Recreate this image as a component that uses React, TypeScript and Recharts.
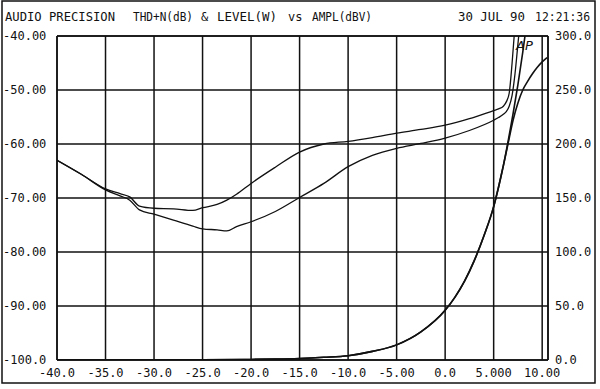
import { CartesianGrid, ComposedChart, Line, ReferenceLine, XAxis, YAxis } from "recharts";

const MONO = "'DejaVu Sans Mono', 'Liberation Mono', monospace";
const INK = "#111";

// x axis (dBV)
const xTicks = [-40, -35, -30, -25, -20, -15, -10, -5, 0, 5, 10];
const xTickLabels = ["-40.0", "-35.0", "-30.0", "-25.0", "-20.0", "-15.0", "-10.0", "-5.00", "0.0", "5.000", "10.00"];

// left axis, THD+N (dB)
const leftTicks = [-100, -90, -80, -70, -60, -50, -40];
const leftTickLabels = ["-100.0", "-90.00", "-80.00", "-70.00", "-60.00", "-50.00", "-40.00"];

// right axis, level (W)
const rightTicks = [0, 50, 100, 150, 200, 250, 300];
const rightTickLabels = ["0.0", "50.0", "100.0", "150.0", "200.0", "250.0", "300.0"];

const thdAmpl = [
  -40, -37.5, -35, -33.5, -32.5, -31.5, -30, -28, -26, -25, -23.5, -22.5, -21.5, -20, -17.5, -15,
  -12.5, -10, -7.5, -5, -2.5, 0, 2.5, 5, 5.5, 6, 6.3, 6.6, 6.9, 7.2, 7.5, 7.8,
];
const thdUpper = [
  -63.0, -65.6, -68.3, -69.2, -69.8, -71.5, -71.9, -72.0, -72.3, -71.8, -71.2, -70.4, -69.3, -67.3, -64.3, -61.5,
  -60.0, -59.5, -58.8, -58.0, -57.3, -56.5, -55.3, -53.8, -53.5, -53.0, -52.2, -50.6, -45.0, -38.0, -30.0, -22.0,
];
const thdLower = [
  -63.0, -65.6, -68.5, -69.6, -70.4, -72.2, -73.0, -74.1, -75.2, -75.7, -75.9, -76.1, -75.3, -74.4, -72.5, -69.9,
  -67.3, -64.2, -62.1, -60.8, -59.9, -58.9, -57.5, -55.6, -55.1, -54.5, -54.0, -53.0, -51.0, -47.0, -41.5, -36.0,
];

const levelAmpl = [
  -40, -35, -30, -25, -20, -17.5, -15, -12.5, -10, -7.5, -5, -2.5, 0, 1, 2, 3, 4, 5, 5.5, 6,
  6.5, 7, 7.5, 8, 8.5, 9, 9.5, 10, 10.5,
];
const levelLeft = [
  0, 0.05, 0.1, 0.2, 0.5, 0.8, 1.4, 2.5, 4, 8, 14, 26, 46, 58, 73, 92, 115, 142, 160, 180,
  203, 228, 255, 285, 318, null, null, null, null,
];
const levelRight = [
  0, 0.05, 0.1, 0.2, 0.5, 0.8, 1.4, 2.5, 4, 8, 14, 26, 46, 58, 73, 92, 115, 142, 160, 180,
  201, 222, 238, 250, 258, 265, 271, 276, 280,
];

const toPoints = (xs: number[], ys: (number | null)[]) =>
  xs.map((x, i) => ({ x, y: ys[i] })).filter((p) => p.y !== null);

const LeftTick = ({ y, payload }: any) => (
  <text x={3} y={y} dy={4} fontSize={12} fontFamily={MONO} fill={INK} textAnchor="start">
    {leftTickLabels[leftTicks.indexOf(payload.value)]}
  </text>
);

const RightTick = ({ y, payload }: any) => (
  <text x={555} y={y} dy={4} fontSize={12} fontFamily={MONO} fill={INK} textAnchor="start">
    {rightTickLabels[rightTicks.indexOf(payload.value)]}
  </text>
);

const BottomTick = ({ x, payload }: any) => (
  <text x={x} y={377} fontSize={12} fontFamily={MONO} fill={INK} textAnchor="middle">
    {xTickLabels[xTicks.indexOf(payload.value)]}
  </text>
);

export default function App() {
  return (
    <div style={{ position: "absolute", left: 0, top: 0, width: 600, height: 389, background: "#fff" }}>
      <ComposedChart width={600} height={389} margin={{ top: 36, right: 0, bottom: 0, left: 0 }}>
        <CartesianGrid yAxisId="left" stroke={INK} strokeWidth={1.5} />
        <XAxis
          type="number"
          dataKey="x"
          domain={[-40, 10.6]}
          ticks={xTicks}
          allowDataOverflow
          height={29}
          tickSize={0}
          tick={<BottomTick />}
          axisLine={{ stroke: INK, strokeWidth: 1.5 }}
        />
        <YAxis
          yAxisId="left"
          domain={[-100, -40]}
          ticks={leftTicks}
          allowDataOverflow
          width={57}
          tickSize={0}
          tick={<LeftTick />}
          axisLine={{ stroke: INK, strokeWidth: 1.5 }}
        />
        <YAxis
          yAxisId="right"
          orientation="right"
          domain={[0, 300]}
          ticks={rightTicks}
          allowDataOverflow
          width={52}
          tickSize={0}
          tick={<RightTick />}
          axisLine={{ stroke: INK, strokeWidth: 1.5 }}
        />
        <ReferenceLine yAxisId="left" y={-40} stroke={INK} strokeWidth={1.5} />
        <Line
          yAxisId="left"
          data={toPoints(thdAmpl, thdUpper)}
          dataKey="y"
          type="monotone"
          stroke={INK}
          strokeWidth={1.3}
          dot={false}
          isAnimationActive={false}
        />
        <Line
          yAxisId="left"
          data={toPoints(thdAmpl, thdLower)}
          dataKey="y"
          type="monotone"
          stroke={INK}
          strokeWidth={1.3}
          dot={false}
          isAnimationActive={false}
        />
        <Line
          yAxisId="right"
          data={toPoints(levelAmpl, levelLeft)}
          dataKey="y"
          type="monotone"
          stroke={INK}
          strokeWidth={1.6}
          dot={false}
          isAnimationActive={false}
        />
        <Line
          yAxisId="right"
          data={toPoints(levelAmpl, levelRight)}
          dataKey="y"
          type="monotone"
          stroke={INK}
          strokeWidth={1.6}
          dot={false}
          isAnimationActive={false}
        />
      </ComposedChart>
      <svg width={600} height={389} style={{ position: "absolute", left: 0, top: 0, pointerEvents: "none" }}>
        <rect x={2} y={1} width={593} height={382} fill="none" stroke={INK} strokeWidth={1.5} />
        <g fontFamily={MONO} fontSize={12} fill={INK} lengthAdjust="spacingAndGlyphs">
          <text x={5} y={21} textLength={110} lengthAdjust="spacingAndGlyphs">AUDIO PRECISION</text>
          <text x={133} y={21} textLength={60} lengthAdjust="spacingAndGlyphs">THD+N(dB)</text>
          <text x={201} y={21}>&amp;</text>
          <text x={217} y={21} textLength={60} lengthAdjust="spacingAndGlyphs">LEVEL(W)</text>
          <text x={288} y={21}>vs</text>
          <text x={312} y={21} textLength={60} lengthAdjust="spacingAndGlyphs">AMPL(dBV)</text>
          <text x={458} y={21} textLength={67} lengthAdjust="spacingAndGlyphs">30 JUL 90</text>
          <text x={535} y={21} textLength={55} lengthAdjust="spacingAndGlyphs">12:21:36</text>
        </g>
        <text x={516} y={50} fontFamily="'DejaVu Sans', sans-serif" fontStyle="italic" fontSize={13} fill={INK}>
          AP
        </text>
      </svg>
    </div>
  );
}
